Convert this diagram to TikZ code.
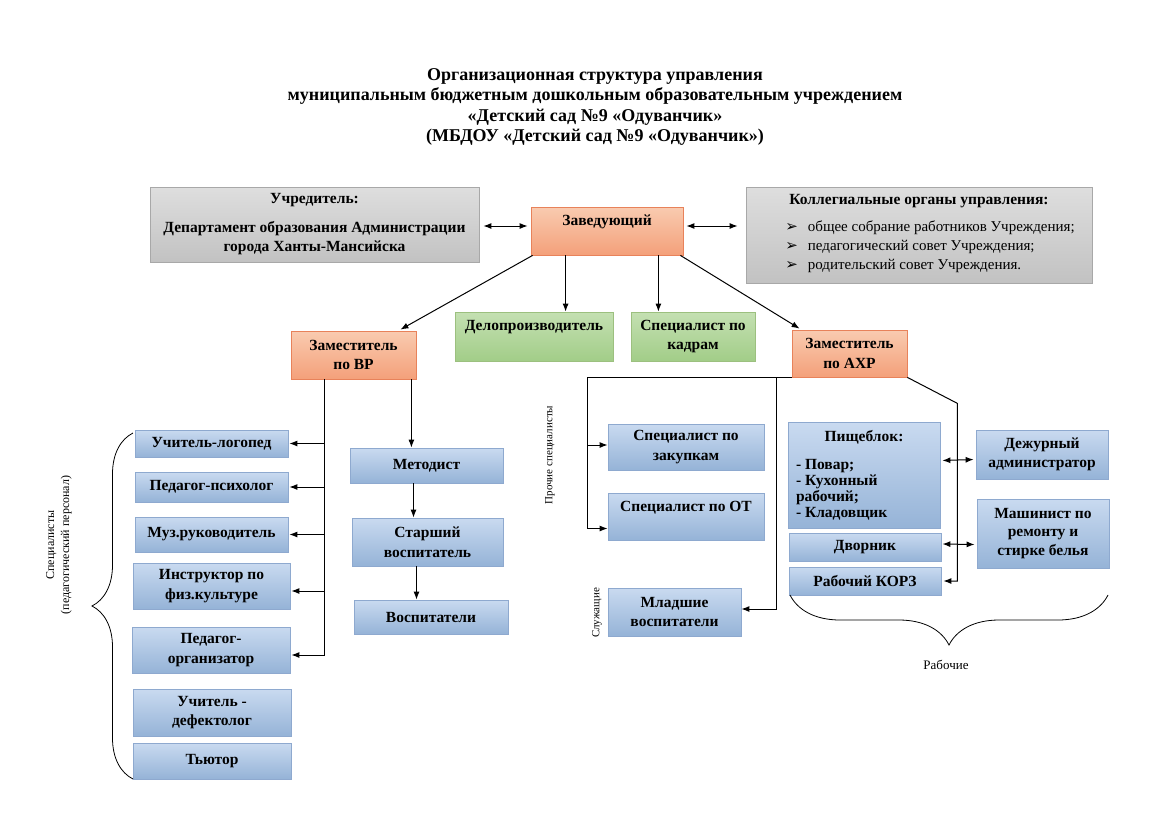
\documentclass[tikz,border=0pt]{standalone}
\usepackage{fontspec}
\setmainfont{Liberation Serif}
\newfontfamily\dejavu{DejaVu Sans}
\usetikzlibrary{arrows.meta,decorations.pathreplacing}

\definecolor{bluetop}{HTML}{C9DAF0}
\definecolor{bluebot}{HTML}{95B3D7}
\definecolor{blueline}{HTML}{8EA9CF}
\definecolor{orangetop}{HTML}{F9CBB0}
\definecolor{orangebot}{HTML}{F4A07A}
\definecolor{orangeline}{HTML}{E8825A}
\definecolor{greentop}{HTML}{C4E0B2}
\definecolor{greenbot}{HTML}{A2CD88}
\definecolor{greenline}{HTML}{9CC07F}
\definecolor{graytop}{HTML}{DEDEDE}
\definecolor{graybot}{HTML}{C2C2C2}
\definecolor{grayline}{HTML}{A8A8A8}

\newcommand\bx[7][]{\node[#1, minimum width={(#5-#3)*1pt}, minimum height={(#6-#4)*1pt}] (#2) at ({(#3+#5)/2},{(#4+#6)/2}) {#7};}
\newcommand\bul{{\dejavu\fontsize{15}{15}\selectfont ➢}}

\begin{document}
\begin{tikzpicture}[x=1pt,y=-1pt,
  box/.style={draw, line width=0.8pt, align=center, inner sep=2pt, font=\fontsize{15.5}{19.5}\selectfont\bfseries},
  bluebox/.style={box, draw=blueline, top color=bluetop, bottom color=bluebot},
  orangebox/.style={box, draw=orangeline, top color=orangetop, bottom color=orangebot},
  greenbox/.style={box, draw=greenline, top color=greentop, bottom color=greenbot},
  graybox/.style={box, draw=grayline, top color=graytop, bottom color=graybot},
  line/.style={line width=1pt, black},
  arr/.style={line, -{Latex[length=8pt,width=6pt]}},
  dbl/.style={line, {Latex[length=8pt,width=6pt]}-{Latex[length=8pt,width=6pt]}},
  note/.style={font=\fontsize{12}{15}\selectfont, align=center},
  brc/.style={line width=0.8pt, decorate, decoration={brace, amplitude=#1}},
]
\fill[white] (0,0) rectangle (1169,827);
\useasboundingbox (0,0) rectangle (1169,827);

% title
\node[font=\fontsize{18}{20.5}\selectfont\bfseries, align=center] (title) at (595,107)
 {Организационная структура управления\\
  муниципальным бюджетным дошкольным образовательным учреждением\\
  «Детский сад №9 «Одуванчик»\\
  (МБДОУ «Детский сад №9 «Одуванчик»)};

% top row
\bx[graybox]{uch}{150}{187}{479}{262}{Учредитель:\\[9pt]Департамент образования Администрации\\города Ханты-Мансийска}
\bx[orangebox, text depth=22pt]{zav}{531}{207}{683}{255}{Заведующий}
\bx[graybox]{koll}{746}{187}{1092}{283}{Коллегиальные органы управления:\\[9pt]
  \hspace*{22pt}\normalfont\fontsize{15}{19}\selectfont
  \begin{tabular}{@{}l@{\hspace{10pt}}l@{}}
  \bul & общее собрание работников Учреждения;\\
  \bul & педагогический совет Учреждения;\\
  \bul & родительский совет Учреждения.
  \end{tabular}}

% second row
\bx[orangebox]{vr}{291}{331}{416}{379}{Заместитель\\по ВР}
\bx[greenbox, text depth=23pt]{delo}{455}{312}{613}{361}{Делопроизводитель}
\bx[greenbox]{kadr}{631}{312}{755}{361}{Специалист по\\кадрам}
\bx[orangebox]{axr}{792}{330}{907}{377}{Заместитель\\по АХР}

% left column
\bx[bluebox]{logo}{135}{430}{288}{457}{Учитель-логопед}
\bx[bluebox]{psih}{135}{472}{288}{502}{Педагог-психолог}
\bx[bluebox]{muz}{135}{517}{288}{552}{Муз.руководитель}
\bx[bluebox]{instr}{133}{563}{290}{609}{Инструктор по\\физ.культуре}
\bx[bluebox]{porg}{132}{627}{290}{673}{Педагог-\\организатор}
\bx[bluebox]{defek}{133}{689}{291}{736}{Учитель -\\дефектолог}
\bx[bluebox]{tyut}{133}{743}{291}{779}{Тьютор}

% middle column
\bx[bluebox]{metod}{350}{448}{503}{483}{Методист}
\bx[bluebox]{starsh}{352}{518}{503}{566}{Старший\\воспитатель}
\bx[bluebox]{vosp}{354}{600}{508}{634}{Воспитатели}

% AXR column
\bx[bluebox]{zak}{608}{424}{764}{470}{Специалист по\\закупкам}
\bx[bluebox, text depth=20pt]{ot}{608}{493}{764}{540}{Специалист по ОТ}
\bx[bluebox]{mlad}{608}{588}{741}{636}{Младшие\\воспитатели}

\bx[bluebox, inner sep=8pt]{pish}{788}{426}{940}{525}{\parbox{136pt}{\centering Пищеблок:\par\vspace{12pt}\raggedright\fontsize{15.5}{16}\selectfont - Повар;\\- Кухонный\\рабочий;\\- Кладовщик}}
\bx[bluebox]{dvor}{789}{533}{941}{561}{Дворник}
\bx[bluebox]{korz}{789}{567}{941}{595}{Рабочий КОРЗ}
\bx[bluebox]{dezh}{976}{430}{1108}{479}{Дежурный\\администратор}
\bx[bluebox, font=\fontsize{15.5}{18.5}\selectfont\bfseries]{mash}{977}{499}{1109}{568}{Машинист по\\ремонту и\\стирке белья}

% notes
\node[note, rotate=90] (spec) at (59,545) {Специалисты\\(педагогический персонал)};
\node[note, font=\fontsize{11}{13}\selectfont, rotate=90] (proch) at (550,455) {Прочие специалисты};
\node[note, font=\fontsize{11}{13}\selectfont, rotate=90] (sluzh) at (597,613) {Служащие};
\node[note, font=\fontsize{13}{15}\selectfont] (rab) at (946,665) {Рабочие};

% braces
\draw[brc=41pt] (133,779) -- (133,433);
\draw[brc=50pt] (1108,595) -- (790,595);

% connectors from head
\draw[dbl] ([xshift=4pt]uch.east |- 0,226) -- ([xshift=-3pt]zav.west |- 0,226);
\draw[dbl] ([xshift=3pt]zav.east |- 0,226) -- ([xshift=-8pt]koll.west |- 0,226);
\draw[arr] ([xshift=2pt]zav.south west) -- ([xshift=-16pt,yshift=1pt]vr.north east);
\draw[arr] ([xshift=35pt]zav.south west) -- ([xshift=35pt]zav.south west |- delo.north);
\draw[arr] ([xshift=-25pt]zav.south east) -- ([xshift=-25pt]zav.south east |- kadr.north);
\draw[arr] ([xshift=-3pt]zav.south east) -- ([xshift=8pt,yshift=1pt]axr.north west);

% VR branch
\coordinate (vrL) at ([xshift=34pt]vr.south west);
\draw[arr] (vrL) |- ([yshift=-5pt,xshift=1pt]porg.east);
\draw[arr] (vrL |- logo.east) -- ([xshift=1pt]logo.east);
\draw[arr] (vrL |- psih.east) -- ([xshift=1pt]psih.east);
\draw[arr] (vrL |- muz.east) -- ([xshift=1pt]muz.east);
\draw[arr] ([yshift=-5pt]vrL |- instr.east) -- ([yshift=-5pt,xshift=1pt]instr.east);
\draw[arr] ([xshift=-5pt]vr.south east) -- ([xshift=-5pt]vr.south east |- metod.north);
\draw[arr] ([xshift=-13pt]metod.south) -- ([xshift=-13pt]metod.south |- starsh.north);
\draw[arr] ([xshift=-11pt]starsh.south) -- ([xshift=-11pt]starsh.south |- vosp.north);

% AXR branch
\draw[arr] (axr.south west) -| ([xshift=-20pt,yshift=-12pt]ot.west) -- ([yshift=-12pt]ot.west);
\draw[arr] ([xshift=-20pt,yshift=2pt]zak.west) -- ([yshift=2pt]zak.west);
\draw[arr] ([xshift=-15pt]axr.south west) |- ([yshift=3pt]mlad.east);
\draw[arr] (axr.south east) -- ++(50,26) |- ([xshift=2pt]korz.east);
\draw[dbl] ([xshift=2pt,yshift=15pt]pish.east) -- ([xshift=-2pt,yshift=-5pt]dezh.west);
\draw[dbl] ([xshift=1pt,yshift=3pt]dvor.east) -- ([xshift=-2pt,yshift=-11pt]mash.west);
\end{tikzpicture}
\end{document}
